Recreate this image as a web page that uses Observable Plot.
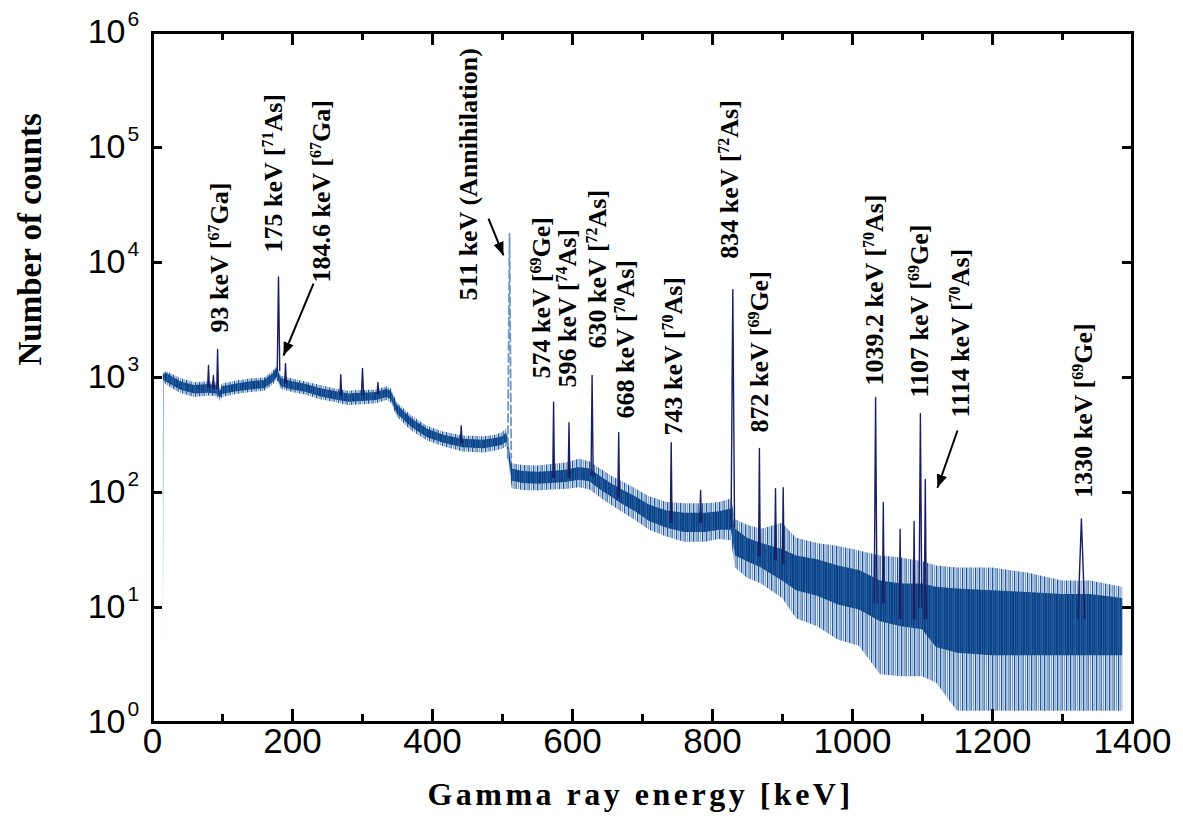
<!DOCTYPE html>
<html><head><meta charset="utf-8">
<script src="https://cdn.jsdelivr.net/npm/d3@7"></script>
<script src="https://cdn.jsdelivr.net/npm/@observablehq/plot@0.6"></script>
<style>body{margin:0;background:#fff;}</style>
</head><body><div id="chart"></div>
<script>
// continuum envelope (energy keV, counts)
const energy    = [15.5, 17, 20, 30, 40, 60, 80, 92, 97, 100, 120, 140, 160, 172, 178, 184, 200, 220, 240, 260, 280, 300, 320, 335, 341, 350, 370, 393, 416, 444, 473, 490, 500, 506, 514, 530, 550, 570, 590, 610, 625, 640, 655, 670, 690, 710, 735, 760, 790, 810, 827, 833, 850, 870, 900, 920, 950, 980, 1010, 1040, 1070, 1100, 1120, 1150, 1200, 1250, 1300, 1340, 1386];
const coreLow   = [950, 940, 910, 840, 780, 720, 730, 720, 660, 710, 750, 780, 800, 900, 1000, 830, 780, 740, 680, 640, 610, 620, 630, 670, 640, 480, 370, 300, 268, 245, 240, 250, 258, 275, 125, 120, 118, 120, 122, 128, 124, 105, 92, 80, 68, 56, 49, 45, 45, 47, 47, 28, 25, 22, 17, 14, 12.5, 10.5, 9.5, 7.5, 6.8, 6.4, 4.5, 4, 3.8, 3.8, 3.8, 3.8, 3.8];
const coreHigh  = [1050, 1060, 1090, 1000, 920, 850, 870, 850, 760, 830, 880, 920, 940, 1070, 1200, 980, 920, 870, 800, 760, 720, 730, 740, 790, 760, 570, 440, 355, 315, 290, 285, 295, 305, 330, 160, 152, 150, 152, 156, 165, 160, 138, 120, 106, 92, 78, 69, 66, 66, 68, 72, 48, 40, 36, 32, 28, 26, 23, 21, 17, 16, 16, 15, 14.5, 14, 13.5, 13, 13, 12];
const spikeLow  = [3.7, 900, 860, 790, 730, 670, 690, 680, 620, 670, 710, 740, 760, 850, 950, 790, 740, 700, 640, 610, 570, 580, 590, 630, 600, 450, 345, 280, 250, 225, 220, 230, 238, 250, 108, 104, 103, 105, 106, 110, 105, 90, 78, 68, 57, 47, 41, 37, 37, 39, 38, 22, 18, 16, 12, 8, 6.8, 5.2, 4.6, 2.6, 2.5, 2.5, 2.2, 1.25, 1.25, 1.25, 1.25, 1.25, 1.25];
const spikeHigh = [1090, 1100, 1130, 1050, 980, 900, 920, 900, 800, 880, 930, 970, 990, 1120, 1260, 1030, 970, 910, 850, 800, 760, 770, 780, 830, 800, 600, 465, 375, 335, 310, 305, 315, 330, 360, 178, 172, 170, 175, 180, 195, 185, 160, 140, 125, 108, 92, 82, 80, 80, 82, 88, 58, 52, 48, 54, 40, 36, 34, 31, 28, 27, 25, 23, 22, 22, 20, 17, 17, 15];

// photopeaks (position keV, top counts, foot counts, half width keV)
const peakEnergy    = [80, 87, 93, 180, 190, 269, 300, 322, 441, 510, 573, 595, 628, 666, 741, 783, 829, 867, 890, 901, 1033, 1044, 1068, 1088, 1097, 1104, 1327];
const peakTop       = [1270, 1040, 1750, 7500, 1320, 1060, 1200, 905, 380, 17800, 610, 405, 1040, 333, 271, 104, 5800, 241, 108, 110, 670, 82, 48, 56, 485, 130, 59];
const peakBase      = [820, 800, 800, 1150, 900, 700, 700, 720, 270, 200, 135, 135, 140, 90, 55, 55, 50, 28, 26, 24, 11, 11, 8, 8, 10, 8, 8];
const peakHalfWidth = [1.2, 1.2, 1.2, 1.8, 1.2, 1.2, 1.5, 1.2, 1.2, 2.5, 1.2, 1.2, 1.5, 1.2, 1.2, 1.2, 2.5, 1.2, 1.2, 1.2, 2, 1.2, 1.2, 1.2, 2, 1.5, 5];

// annotations
const labelText = ["93 keV [^67Ga]", "175 keV [^71As]", "184.6 keV [^67Ga]", "511 keV (Annihilation)", "574 keV [^69Ge]", "596 keV [^74As]", "630 keV [^72As]", "668 keV [^70As]", "743 keV [^70As]", "834 keV [^72As]", "872 keV [^69Ge]", "1039.2 keV [^70As]", "1107 keV [^69Ge]", "1114 keV [^70As]", "1330 keV [^69Ge]"];
const labelEnergy = [95.7, 172.9, 241.4, 451.4, 555.7, 592.9, 635.7, 675.7, 744.3, 824.3, 867.1, 1031.4, 1095.7, 1154.3, 1330];
const labelCount  = [2460, 12200, 6700, 4680, 980, 818, 1790, 440, 313, 10800, 332, 851, 670, 449, 90];

const arrowFromEnergy = [230, 480, 1150];
const arrowFromCount  = [6565, 24130, 346];
const arrowToEnergy   = [187.1, 501.4, 1121.4];
const arrowToCount    = [1553, 11510, 110];

const xTicks = [0, 200, 400, 600, 800, 1000, 1200, 1400];
const xMinorTicks = [100, 300, 500, 700, 900, 1100, 1300];
const yTicks = [1, 10, 100, 1000, 10000, 100000, 1000000];
const yExponents = ["0", "1", "2", "3", "4", "5", "6"];

const band = energy.map((e, i) => ({e, cLo: coreLow[i], cHi: coreHigh[i], sLo: spikeLow[i], sHi: spikeHigh[i]}));
const peakPath = peakEnergy.flatMap((e, i) => [
  {id: i, e: e - peakHalfWidth[i], c: peakBase[i]},
  {id: i, e: e, c: peakTop[i]},
  {id: i, e: e + peakHalfWidth[i], c: peakBase[i]}
]);
const labels = labelText.map((t, i) => ({t, e: labelEnergy[i], c: labelCount[i]}));
const arrows = arrowFromEnergy.map((e, i) => ({e1: e, c1: arrowFromCount[i], e2: arrowToEnergy[i], c2: arrowToCount[i]}));
const yLab = yTicks.map((v, i) => ({v, p: yExponents[i]}));

const W = 1183, H = 833, mL = 152, mR = 51, mT = 32, mB = 111;
const pw = W - mL - mR, ph = H - mT - mB;
const sans = "Liberation Sans, Arial, sans-serif";
const serif = "Liberation Serif, Times New Roman, serif";

const chart = Plot.plot({
  width: W, height: H,
  marginLeft: mL, marginRight: mR, marginTop: mT, marginBottom: mB,
  style: {background: "white", overflow: "visible"},
  x: {domain: [0, 1400], axis: null},
  y: {type: "log", domain: [1, 1e6], axis: null},
  marks: [
    Plot.areaY(band, {x: "e", y1: "sLo", y2: "sHi", fill: "url(#spkPat)"}),
    Plot.areaY(band, {x: "e", y1: "cLo", y2: "cHi", fill: "url(#corePat)"}),
    Plot.line(peakPath.filter(d => peakEnergy[d.id] !== 510), {x: "e", y: "c", z: "id", stroke: "#1b1f62", strokeWidth: 1.4}),
    Plot.line(peakPath.filter(d => peakEnergy[d.id] === 510), {x: "e", y: "c", z: "id", stroke: "#7096c6", strokeWidth: 1.8, strokeDasharray: "8,4"}),
    Plot.frame({stroke: "black", strokeWidth: 3}),
    Plot.ruleX(xTicks, {x: d => d, insetTop: ph - 13, strokeWidth: 3}),
    Plot.ruleX(xMinorTicks, {x: d => d, insetTop: ph - 8, strokeWidth: 3}),
    Plot.ruleX(xTicks, {x: d => d, insetBottom: ph - 13, strokeWidth: 3}),
    Plot.ruleX(xMinorTicks, {x: d => d, insetBottom: ph - 8, strokeWidth: 3}),
    Plot.ruleY(yTicks, {y: d => d, insetRight: pw - 10, strokeWidth: 3}),
    Plot.ruleY(yTicks, {y: d => d, insetLeft: pw - 10, strokeWidth: 3}),
    Plot.text(xTicks, {x: d => d, frameAnchor: "bottom", dy: 30, text: d => `${d}`, fontSize: 35, fontFamily: sans, fill: "black"}),
    Plot.text(yLab, {y: "v", frameAnchor: "left", dx: -27, textAnchor: "end", text: () => "10", fontSize: 34, fontFamily: sans, fill: "black"}),
    Plot.text(yLab, {y: "v", frameAnchor: "left", dx: -25, dy: -13, textAnchor: "start", text: "p", fontSize: 21, fontFamily: sans, fill: "black"}),
    Plot.text(["Gamma ray energy [keV]"], {frameAnchor: "bottom", dx: -2, dy: 82, text: d => d, fontSize: 32, fontWeight: "bold", fontFamily: serif, fill: "black"}),
    Plot.text(["Number of counts"], {frameAnchor: "left", dx: -122, dy: -12, rotate: -90, text: d => d, fontSize: 33, fontWeight: "bold", fontFamily: serif, fill: "black"}),
    Plot.text(labels, {x: "e", y: "c", text: "t", rotate: -90, textAnchor: "start", lineAnchor: "middle", fontSize: 26, fontWeight: "bold", fontFamily: serif, fill: "black"}),
    Plot.link(arrows, {x1: "e1", y1: "c1", x2: "e2", y2: "c2", stroke: "black", strokeWidth: 2, markerEnd: "arrow"})
  ]
});

// irregular vertical-stripe patterns imitating the channel-by-channel noise
const ns = "http://www.w3.org/2000/svg";
const defs = d3.select(chart).insert("defs", ":first-child");
const core = defs.append("pattern").attr("id", "corePat").attr("patternUnits", "userSpaceOnUse").attr("width", 11).attr("height", 8);
core.append("rect").attr("width", 11).attr("height", 8).attr("fill", "#3f74b1");
[[0, 2], [2.6, 1.4], [4.4, 2.2], [7.3, 1], [8.8, 1.8]].forEach(([x, w]) =>
  core.append("rect").attr("x", x).attr("width", w).attr("height", 8).attr("fill", "#0a4288"));
const spk = defs.append("pattern").attr("id", "spkPat").attr("patternUnits", "userSpaceOnUse").attr("width", 13).attr("height", 8);
spk.append("rect").attr("width", 13).attr("height", 8).attr("fill", "#dbe5f1");
[[0, 1.2, "#1d58a0"], [2.4, 0.8, "#6a92c4"], [4, 1.3, "#1d58a0"], [6.7, 0.9, "#4f7fb8"], [8.6, 1.1, "#1d58a0"], [11, 0.8, "#6a92c4"]].forEach(([x, w, c]) =>
  spk.append("rect").attr("x", x).attr("width", w).attr("height", 8).attr("fill", c));

// superscripts in annotations
chart.querySelectorAll("text").forEach(t => {
  const s = t.textContent;
  const m = s.match(/^(.*)\^(\d+)(.*)$/);
  if (!m) return;
  t.textContent = "";
  const a = document.createElementNS(ns, "tspan"); a.textContent = m[1];
  const b = document.createElementNS(ns, "tspan"); b.textContent = m[2]; b.setAttribute("font-size", "16"); b.setAttribute("dy", "-9");
  const c = document.createElementNS(ns, "tspan"); c.textContent = m[3]; c.setAttribute("dy", "9");
  t.append(a, b, c);
});
chart.querySelectorAll("text").forEach(t => {
  if (t.textContent === "Gamma ray energy [keV]") t.style.letterSpacing = "3.5px";
});
// filled arrow heads
chart.querySelectorAll("marker").forEach(mk => {
  mk.setAttribute("refX", "5");
  mk.setAttribute("fill", "black");
  mk.setAttribute("stroke", "none");
  const p = mk.querySelector("path");
  if (p) { p.setAttribute("d", "M-5,-4L5,0L-5,4Z"); p.setAttribute("fill", "black"); p.setAttribute("stroke", "none"); }
});

document.getElementById("chart").appendChild(chart);
</script>
</body></html>
